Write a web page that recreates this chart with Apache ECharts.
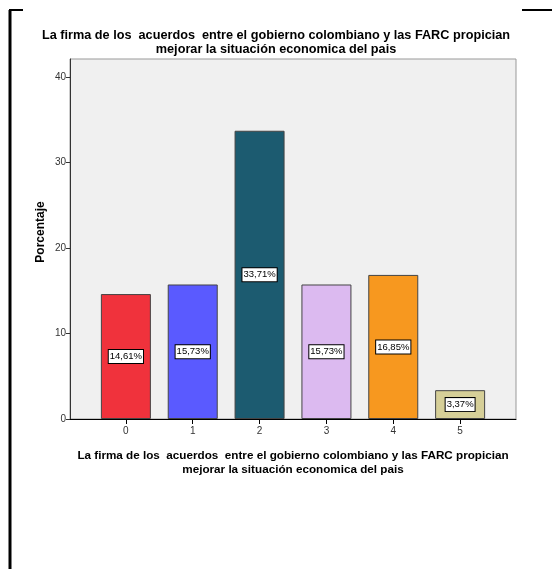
<!DOCTYPE html>
<html>
<head>
<meta charset="utf-8">
<script src="https://cdn.jsdelivr.net/npm/echarts@6/dist/echarts.min.js"></script>
<style>html,body{margin:0;padding:0;background:#fff;}#c{width:552px;height:569px;}</style>
</head>
<body>
<div id="c"></div>
<script>
const categories = ['0', '1', '2', '3', '4', '5'];
const values = [14.61, 15.73, 33.71, 15.73, 16.85, 3.37];
const barColors = ['#f0323c', '#5a5aff', '#1c5b70', '#dcbaf0', '#f7981f', '#d6cf98'];
const yTicks = [0, 10, 20, 30, 40];
const titleText = 'La firma de los  acuerdos  entre el gobierno colombiano y las FARC propician\nmejorar la situación economica del pais';
const yName = 'Porcentaje';

const FONT = '"Liberation Sans", Arial, sans-serif';
const chart = echarts.init(document.getElementById('c'), null, {renderer: 'canvas'});
chart.setOption({
  animation: false,
  backgroundColor: '#fff',
  title: {
    text: titleText,
    left: 'center',
    top: 23,
    textStyle: {fontFamily: FONT, fontWeight: 'bold', fontSize: 12.7, lineHeight: 14.5, color: '#000'}
  },
  grid: {
    left: 70, right: 36, top: 59, bottom: 150,
    show: true, backgroundColor: '#f0f0f0', borderColor: '#999', borderWidth: 1
  },
  xAxis: {
    type: 'value',
    min: -0.836, max: 5.836,
    name: titleText,
    nameLocation: 'middle',
    nameGap: 30,
    nameMoveOverlap: false,
    nameTextStyle: {fontFamily: FONT, fontWeight: 'bold', fontSize: 11.7, lineHeight: 14, color: '#000'},
    axisLine: {show: true, onZero: false, lineStyle: {color: '#000', width: 1}},
    axisTick: {show: true, length: 5, lineStyle: {color: '#000'}, customValues: categories.map((c, i) => i)},
    axisLabel: {fontFamily: FONT, fontSize: 10, color: '#333', margin: 7,
      customValues: categories.map((c, i) => i), formatter: v => categories[Math.round(v)]},
    splitLine: {show: false}
  },
  yAxis: {
    type: 'value',
    min: 0, max: 42.1,
    name: yName,
    nameLocation: 'middle',
    nameRotate: 90,
    nameGap: 23,
    nameMoveOverlap: false,
    nameTextStyle: {fontFamily: FONT, fontWeight: 'bold', fontSize: 12, color: '#000', padding: [0, 0, 0, 14]},
    axisLine: {show: true, onZero: false, lineStyle: {color: '#333', width: 1}},
    axisTick: {show: true, length: 4, lineStyle: {color: '#333'}, customValues: yTicks},
    axisLabel: {fontFamily: FONT, fontSize: 10, color: '#333', margin: 4, customValues: yTicks},
    splitLine: {show: false}
  },
  series: [{
    type: 'bar',
    barWidth: 50,
    data: values.map((v, i) => ({value: [i, v], itemStyle: {color: barColors[i]}})),
    itemStyle: {borderColor: '#444', borderWidth: 1},
    label: {
      show: true, position: 'inside',
      fontFamily: FONT, fontSize: 9.5, color: '#000',
      backgroundColor: '#fff', borderColor: '#000', borderWidth: 1, padding: [2, 1, 1, 1],
      formatter: p => p.value[1].toFixed(2).replace('.', ',') + '%'
    }
  }],
  graphic: [
    {type: 'line', shape: {x1: 10, y1: 10, x2: 10, y2: 569}, style: {stroke: '#000', lineWidth: 3}},
    {type: 'line', shape: {x1: 9, y1: 10, x2: 23, y2: 10}, style: {stroke: '#000', lineWidth: 2}},
    {type: 'line', shape: {x1: 522, y1: 10, x2: 552, y2: 10}, style: {stroke: '#000', lineWidth: 2}}
  ]
});
</script>
</body>
</html>
